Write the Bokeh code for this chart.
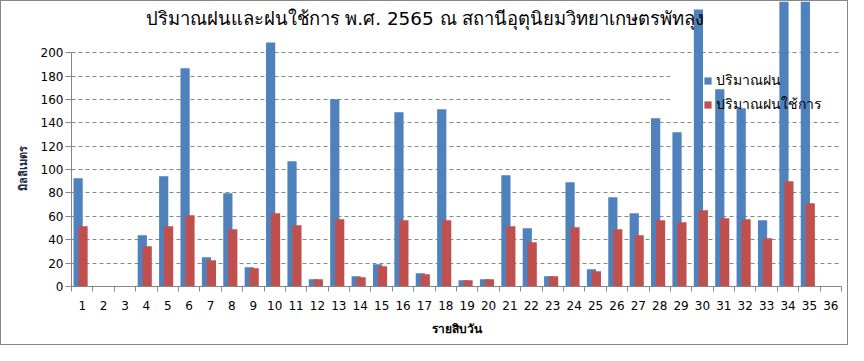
import math
from bokeh.plotting import figure
from bokeh.models import Range1d, FixedTicker, Legend, LegendItem, Label, BoxAnnotation, ColumnDataSource
from bokeh.transform import dodge
from bokeh.embed import file_html
from bokeh.resources import INLINE

# ---- data ----
days = list(range(1, 36))
tick_labels = [str(i) for i in range(1, 37)]
rainfall = [92.6, 0, 0, 43.9, 94.3, 186.6, 25.1, 79.8, 16.5, 208.8,
            107.1, 6.3, 160.1, 8.8, 19.1, 149.0, 11.4, 151.6, 5.4, 6.3,
            95.2, 49.9, 8.8, 89.2, 14.8, 76.4, 62.7, 143.9, 131.9, 237.0,
            168.7, 152.4, 56.7, 265.0, 270.0]
effective = [51.6, 0, 0, 34.5, 51.6, 61.0, 22.5, 49.0, 15.7, 62.7,
             52.4, 6.3, 57.5, 8.0, 17.4, 56.7, 10.5, 56.7, 5.4, 6.3,
             51.6, 37.9, 8.8, 50.7, 13.1, 49.0, 43.9, 56.7, 55.0, 65.2,
             58.4, 57.5, 41.3, 90.0, 71.2]
series_names = ["ปริมาณฝน", "ปริมาณฝนใช้การ"]
title_text = "ปริมาณฝนและฝนใช้การ พ.ศ. 2565 ณ สถานีอุตุนิยมวิทยาเกษตรพัทลุง"
x_title = "รายสิบวัน"
y_title = "มิลลิเมตร"
y_ticks = [0, 20, 40, 60, 80, 100, 120, 140, 160, 180, 200]

BLUE = "#4F81BD"
RED = "#C0504D"
GRID = "#868686"
FONT = "DejaVu Sans"

n_cat = len(tick_labels)
p = figure(width=848, height=345, output_backend="svg", toolbar_location=None,
           x_range=Range1d(0.5, n_cat + 0.5), y_range=Range1d(0, 243.8),
           min_border_left=70, min_border_right=8, min_border_top=0, min_border_bottom=60)
p.outline_line_color = None
p.background_fill_color = "white"
p.border_fill_color = "white"

src = ColumnDataSource(dict(day=days, rain=rainfall, eff=effective))

# white patch behind the legend (hides grid lines there)
p.add_layout(BoxAnnotation(left=28.5, right=36.4, bottom=152, top=188,
                           fill_color="white", fill_alpha=1, line_color=None, level="underlay"))

b1 = p.vbar(x=dodge("day", -0.19, range=p.x_range), top="rain", width=0.43, source=src,
            fill_color=BLUE, line_color=None)
b2 = p.vbar(x=dodge("day", 0.04, range=p.x_range), top="eff", width=0.43, source=src,
            fill_color=RED, line_color=None)

# x axis
xa = p.xaxis[0]
xa.ticker = FixedTicker(ticks=list(range(1, n_cat + 1)),
                        minor_ticks=[i + 0.5 for i in range(0, n_cat + 1)])
xa.major_label_overrides = {i + 1: lab for i, lab in enumerate(tick_labels)}
xa.major_tick_out = 0
xa.major_tick_in = 0
xa.minor_tick_out = 5
xa.minor_tick_in = 0
xa.minor_tick_line_color = GRID
xa.axis_line_color = GRID
xa.major_label_standoff = 9
xa.major_label_text_font = FONT
xa.major_label_text_font_size = "12px"
xa.major_label_text_color = "black"
xa.axis_label = x_title
xa.axis_label_text_font = FONT
xa.axis_label_text_font_size = "12px"
xa.axis_label_text_font_style = "bold"
xa.axis_label_text_color = "black"
xa.axis_label_standoff = 9

# y axis
ya = p.yaxis[0]
ya.ticker = FixedTicker(ticks=y_ticks, minor_ticks=[])
ya.bounds = (0, 200)
ya.major_tick_out = 6
ya.major_tick_in = 0
ya.minor_tick_out = 0
ya.minor_tick_in = 0
ya.major_tick_line_color = GRID
ya.axis_line_color = GRID
ya.major_label_standoff = 2
ya.major_label_text_font = FONT
ya.major_label_text_font_size = "12px"
ya.major_label_text_color = "black"
# trailing no-break spaces move the visible title down onto the 0-200 span
ya.axis_label = y_title + "\u00a0" * 13
ya.axis_label_text_font = FONT
ya.axis_label_text_font_size = "11px"
ya.axis_label_text_font_style = "bold"
ya.axis_label_text_color = "#1F2A44"
ya.axis_label_standoff = 8

# grid
p.xgrid.visible = False
p.ygrid.ticker = FixedTicker(ticks=y_ticks[1:], minor_ticks=[])
p.ygrid.grid_line_color = GRID
p.ygrid.grid_line_dash = "4 3"
p.ygrid.grid_line_width = 1

# legend
legend = Legend(items=[LegendItem(label=series_names[0], renderers=[b1]),
                       LegendItem(label=series_names[1], renderers=[b2])],
                location=(632, 171), glyph_width=9, glyph_height=9,
                label_height=14, spacing=2, padding=0, margin=0, label_standoff=4,
                label_text_font=FONT, label_text_font_size="14px", label_text_color="black",
                border_line_color=None, background_fill_alpha=0)
p.add_layout(legend)

# title
p.add_layout(Label(x=3.96, y=229.3, text=title_text, text_align="left", text_baseline="middle",
                   text_font=FONT, text_font_size="18.4px", text_color="black"))

p.styles = {"border": "1px solid #868686"}

open("out.html", "w").write(file_html(p, INLINE))
